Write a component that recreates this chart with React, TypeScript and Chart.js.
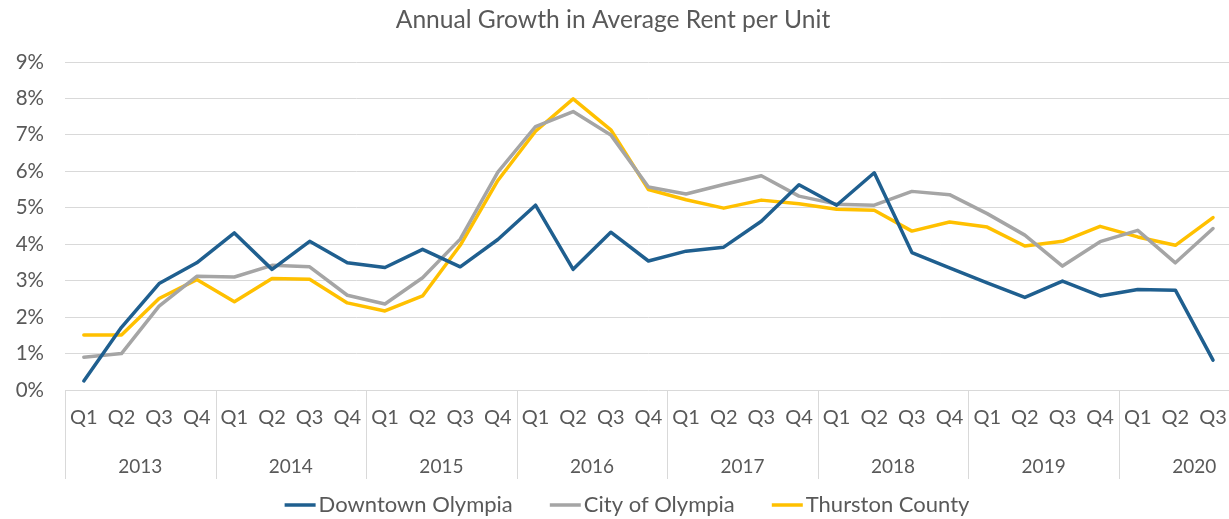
import React, { useEffect, useRef } from 'react';
import { Chart, registerables } from 'chart.js';

Chart.register(...registerables);

// ---- data ----
const YEARS = ['2013', '2014', '2015', '2016', '2017', '2018', '2019', '2020'];
const QUARTER_LABELS = [
  'Q1', 'Q2', 'Q3', 'Q4', 'Q1', 'Q2', 'Q3', 'Q4',
  'Q1', 'Q2', 'Q3', 'Q4', 'Q1', 'Q2', 'Q3', 'Q4',
  'Q1', 'Q2', 'Q3', 'Q4', 'Q1', 'Q2', 'Q3', 'Q4',
  'Q1', 'Q2', 'Q3', 'Q4', 'Q1', 'Q2', 'Q3',
];
const DOWNTOWN_OLYMPIA = [
  0.25, 1.72, 2.92, 3.49, 4.31, 3.31, 4.08, 3.49,
  3.36, 3.86, 3.38, 4.13, 5.07, 3.31, 4.33, 3.54,
  3.81, 3.92, 4.63, 5.63, 5.07, 5.96, 3.77, 3.35,
  2.94, 2.54, 2.99, 2.58, 2.76, 2.74, 0.82,
];
const CITY_OF_OLYMPIA = [
  0.9, 1.0, 2.3, 3.12, 3.1, 3.42, 3.38, 2.6,
  2.36, 3.08, 4.14, 5.98, 7.23, 7.64, 7.0, 5.57,
  5.38, 5.64, 5.88, 5.32, 5.1, 5.07, 5.45, 5.36,
  4.84, 4.25, 3.4, 4.07, 4.38, 3.49, 4.43,
];
const THURSTON_COUNTY = [
  1.51, 1.51, 2.51, 3.03, 2.42, 3.06, 3.04, 2.39,
  2.17, 2.58, 3.97, 5.75, 7.1, 7.99, 7.14, 5.5,
  5.22, 4.99, 5.21, 5.11, 4.96, 4.93, 4.36, 4.61,
  4.47, 3.95, 4.08, 4.49, 4.2, 3.97, 4.73,
];
const Y_TICKS = [0, 1, 2, 3, 4, 5, 6, 7, 8, 9];
const TITLE = 'Annual Growth in Average Rent per Unit';
const SERIES_NAMES = ['Downtown Olympia', 'City of Olympia', 'Thurston County'];
const SERIES_COLORS = ['#1f5f8f', '#a5a5a5', '#ffc000'];

// ---- styling / layout ----
const FONT = 'Lato, "Open Sans", sans-serif';
const TEXT = '#595959';
const GRID = '#d9d9d9';
const VIEW_W = 1229;
const CANVAS_W = 1270;
const CANVAS_H = 519;
const PLOT_LEFT = 65;
const PLOT_TOP = 62;
const PLOT_BOTTOM = 390;
const QW = 37.64;
const X_AXIS_H = 89;
const YEAR_Y = 467;
const LEGEND_Y = 505;
const LEGEND_CX = 627;
const TITLE_X = 613;
const TITLE_Y = 20;

const decorPlugin = {
  id: 'decor',
  afterDraw(chart: any) {
    const { ctx, chartArea } = chart;
    const xs = chart.scales.x;
    const half = (xs.getPixelForValue(1) - xs.getPixelForValue(0)) / 2;
    ctx.save();
    // year separators
    ctx.strokeStyle = GRID;
    ctx.lineWidth = 1;
    for (let k = 0; k <= YEARS.length; k++) {
      const px = Math.round(xs.getPixelForValue(k * 4) - half) + 0.5;
      ctx.beginPath();
      ctx.moveTo(px, chartArea.bottom);
      ctx.lineTo(px, chartArea.bottom + X_AXIS_H);
      ctx.stroke();
    }
    // year labels
    ctx.fillStyle = TEXT;
    ctx.font = `19px ${FONT}`;
    ctx.textAlign = 'center';
    ctx.textBaseline = 'middle';
    YEARS.forEach((y, k) => {
      const cx = (xs.getPixelForValue(k * 4) + xs.getPixelForValue(k * 4 + 3)) / 2;
      ctx.fillText(y, cx, YEAR_Y);
    });
    // title
    ctx.font = `24.6px ${FONT}`;
    ctx.fillText(TITLE, TITLE_X, TITLE_Y);
    // legend
    ctx.font = `22px ${FONT}`;
    const lineW = 31, gap = 3, spacing = 37;
    const widths = SERIES_NAMES.map((n) => ctx.measureText(n).width);
    const total = widths.reduce((a, w) => a + lineW + gap + w, 0) + spacing * (SERIES_NAMES.length - 1);
    let x = LEGEND_CX - total / 2;
    ctx.textAlign = 'left';
    SERIES_NAMES.forEach((n, i) => {
      ctx.strokeStyle = SERIES_COLORS[i];
      ctx.lineWidth = 3.5;
      ctx.beginPath();
      ctx.moveTo(x, LEGEND_Y);
      ctx.lineTo(x + lineW, LEGEND_Y);
      ctx.stroke();
      ctx.fillText(n, x + lineW + gap, LEGEND_Y);
      x += lineW + gap + widths[i] + spacing;
    });
    ctx.restore();
  },
};

export default function App() {
  const ref = useRef<HTMLCanvasElement>(null);
  useEffect(() => {
    if (!ref.current) return;
    const series = [DOWNTOWN_OLYMPIA, CITY_OF_OLYMPIA, THURSTON_COUNTY];
    const chart = new Chart(ref.current, {
      type: 'line',
      data: {
        labels: QUARTER_LABELS,
        datasets: series.map((d, i) => ({
          label: SERIES_NAMES[i],
          data: d,
          borderColor: SERIES_COLORS[i],
          backgroundColor: SERIES_COLORS[i],
          borderWidth: 3.5,
          pointRadius: 0,
          tension: 0,
          borderJoinStyle: 'round' as const,
          borderCapStyle: 'round' as const,
        })),
      },
      options: {
        responsive: false,
        animation: false,
        layout: {
          padding: {
            top: PLOT_TOP,
            left: 0,
            right: CANVAS_W - PLOT_LEFT - QW * QUARTER_LABELS.length,
            bottom: CANVAS_H - PLOT_BOTTOM - X_AXIS_H,
          },
        },
        plugins: {
          legend: { display: false },
          title: { display: false },
          tooltip: { enabled: false },
        },
        scales: {
          x: {
            type: 'category',
            offset: true,
            grid: { display: false, drawTicks: false },
            border: { display: false },
            ticks: {
              color: TEXT,
              font: { family: FONT, size: 20 },
              padding: 16,
              maxRotation: 0,
              autoSkip: false,
            },
            afterFit: (s: any) => { s.height = X_AXIS_H; },
          },
          y: {
            min: 0,
            max: 9,
            afterBuildTicks: (s: any) => { s.ticks = Y_TICKS.map((v) => ({ value: v })); },
            grid: { color: GRID, lineWidth: 1, drawTicks: false },
            border: { display: false },
            ticks: {
              color: TEXT,
              font: { family: FONT, size: 20.5 },
              padding: 21,
              callback: (v: any) => `${v}%`,
            },
            afterFit: (s: any) => { s.width = PLOT_LEFT; },
          },
        },
      },
      plugins: [decorPlugin],
    });
    return () => chart.destroy();
  }, []);

  return (
    <div style={{ position: 'fixed', left: 0, top: 0, width: VIEW_W, height: CANVAS_H, overflow: 'hidden', background: '#fff' }}>
      <canvas ref={ref} width={CANVAS_W} height={CANVAS_H} style={{ display: 'block' }} />
    </div>
  );
}
